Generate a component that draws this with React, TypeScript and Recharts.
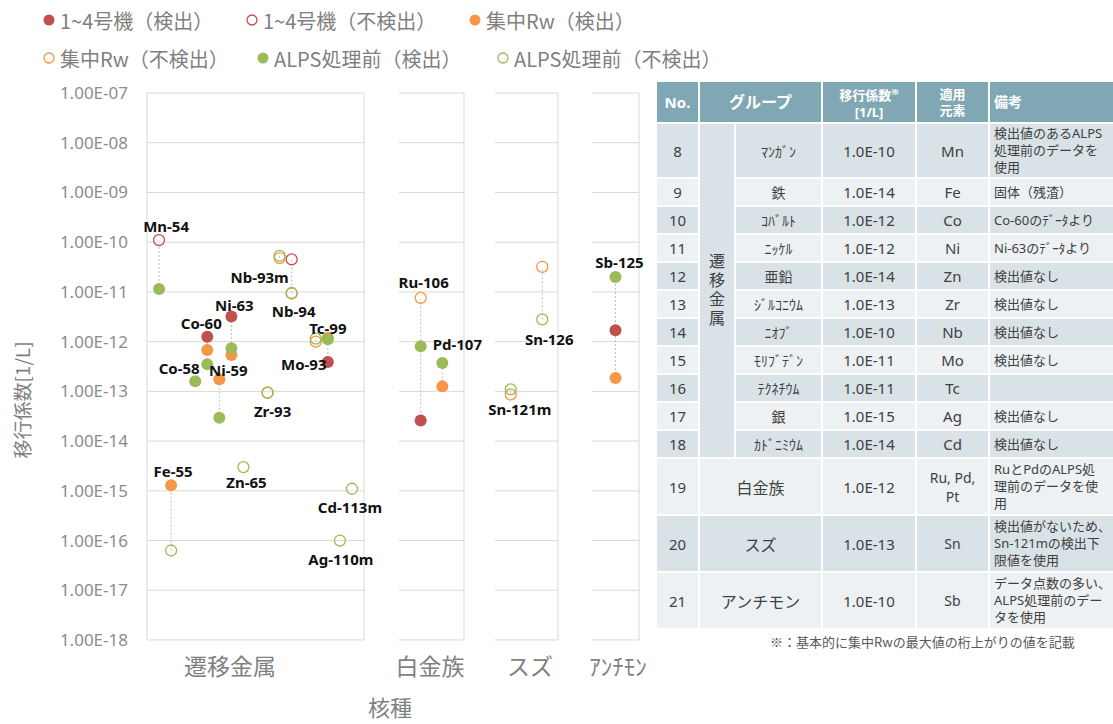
import { ScatterChart, Scatter, XAxis, YAxis, CartesianGrid } from "recharts";

// nuclides, the group (panel) they belong to and their slot inside the panel
const NUCLIDES = [
  "Mn-54", "Fe-55", "Co-58", "Co-60", "Ni-59", "Ni-63", "Zn-65", "Zr-93", "Nb-93m", "Nb-94",
  "Mo-93", "Tc-99", "Ag-110m", "Cd-113m", "Ru-106", "Pd-107", "Sn-121m", "Sn-126", "Sb-125",
];
const NUCLIDE_GROUP = [0, 0, 0, 0, 0, 0, 0, 0, 0, 0, 0, 0, 0, 0, 1, 1, 2, 2, 3];
const NUCLIDE_SLOT = [0, 1, 3, 4, 5, 6, 7, 9, 10, 11, 13, 14, 15, 16, 1, 2, 1, 3, 1];

const GROUPS = ["遷移金属", "白金族", "スズ", "ｱﾝﾁﾓﾝ"];
const GROUP_DOMAIN: [number, number][] = [[-1, 17], [0, 3], [0, 4], [0, 2]];

const Y_TICKS = [1e-18, 1e-17, 1e-16, 1e-15, 1e-14, 1e-13, 1e-12, 1e-11, 1e-10, 1e-9, 1e-8, 1e-7];
const Y_DOMAIN: [number, number] = [0.9999e-18, 1.0001e-7];

type Val = [string, number];

const U14_DET: Val[] = [
  ["Co-60", 1.25e-12], ["Ni-63", 3.2e-12], ["Tc-99", 3.9e-13], ["Ru-106", 2.6e-14], ["Sb-125", 1.7e-12],
];
const U14_ND: Val[] = [["Mn-54", 1.1e-10], ["Nb-94", 4.5e-11]];
const RW_DET: Val[] = [
  ["Fe-55", 1.3e-15], ["Co-60", 6.8e-13], ["Ni-59", 1.75e-13], ["Ni-63", 5.4e-13], ["Tc-99", 1.2e-12],
  ["Pd-107", 1.26e-13], ["Sb-125", 1.85e-13],
];
const RW_ND: Val[] = [
  ["Zr-93", 9.3e-14], ["Nb-93m", 4.8e-11], ["Nb-94", 9.3e-12], ["Mo-93", 1.0e-12], ["Ru-106", 7.6e-12],
  ["Sn-121m", 8.7e-14], ["Sn-126", 3.2e-11],
];
const ALPS_DET: Val[] = [
  ["Mn-54", 1.15e-11], ["Co-58", 1.6e-13], ["Co-60", 3.5e-13], ["Ni-59", 2.95e-14], ["Ni-63", 7.4e-13],
  ["Tc-99", 1.12e-12], ["Ru-106", 8.1e-13], ["Pd-107", 3.7e-13], ["Sb-125", 2.0e-11],
];
const ALPS_ND: Val[] = [
  ["Fe-55", 6.3e-17], ["Zn-65", 3.0e-15], ["Zr-93", 9.5e-14], ["Nb-93m", 5.3e-11], ["Nb-94", 9.5e-12],
  ["Mo-93", 1.15e-12], ["Ag-110m", 1.0e-16], ["Cd-113m", 1.1e-15], ["Sn-121m", 1.1e-13], ["Sn-126", 2.8e-12],
];

const RED = "#c0504d";
const ORANGE = "#f79646";
const GREEN = "#9bbb59";

const SERIES = [
  { name: "1~4号機（検出）", color: RED, filled: true, data: U14_DET },
  { name: "1~4号機（不検出）", color: RED, filled: false, data: U14_ND },
  { name: "集中Rw（検出）", color: ORANGE, filled: true, data: RW_DET },
  { name: "集中Rw（不検出）", color: ORANGE, filled: false, data: RW_ND },
  { name: "ALPS処理前（検出）", color: GREEN, filled: true, data: ALPS_DET },
  { name: "ALPS処理前（不検出）", color: GREEN, filled: false, data: ALPS_ND },
];

// label offset (px) from the highest point of each nuclide
const LABEL_OFFSET: Record<string, [number, number]> = {
  "Mn-54": [7, -14], "Fe-55": [2, -14], "Co-58": [-16, -13], "Co-60": [-6, -14], "Ni-59": [9, -9],
  "Ni-63": [3, -12], "Zn-65": [3, 15], "Zr-93": [5, 19], "Nb-93m": [-20, 21], "Nb-94": [2, 52],
  "Mo-93": [-12, 25], "Tc-99": [0, -10], "Ag-110m": [1, 18], "Cd-113m": [-2, 18], "Ru-106": [3, -16],
  "Pd-107": [15, -19], "Sn-121m": [9, 20], "Sn-126": [7, 72], "Sb-125": [4, -15],
};

// panel plot areas: left edge and width in px
const PANELS = [
  { left: 147, width: 217 },
  { left: 399, width: 65 },
  { left: 495, width: 63 },
  { left: 592, width: 47 },
];
const PLOT_TOP = 93;
const PLOT_BOTTOM = 640;
const GROUP_LABEL_X = [230, 430, 530, 618];

const fmtTick = (v: number) => {
  const [m, e] = v.toExponential(2).split("e");
  const n = parseInt(e, 10);
  return `${m}E${n < 0 ? "-" : "+"}${String(Math.abs(n)).padStart(2, "0")}`;
};

const idx = (n: string) => NUCLIDES.indexOf(n);

function marker(color: string, filled: boolean) {
  return (p: any) => {
    if (p.cx == null || p.cy == null) return <g />;
    return filled ? (
      <circle cx={p.cx} cy={p.cy} r={6} fill={color} />
    ) : (
      <circle cx={p.cx} cy={p.cy} r={5.5} fill="none" stroke={color} strokeWidth={1.3} />
    );
  };
}

const labelShape = (p: any) => {
  if (p.cx == null) return <g />;
  const [dx, dy] = LABEL_OFFSET[p.payload.name] || [0, -14];
  return (
    <text
      x={p.cx + dx}
      y={p.cy + dy}
      textAnchor="middle"
      dominantBaseline="central"
      fontFamily="'Noto Sans', sans-serif"
      fontWeight={700}
      fontSize={15}
      fill="#111"
    >
      {p.payload.name}
    </text>
  );
};

function Panel({ gi }: { gi: number }) {
  const panel = PANELS[gi];
  const axisW = gi === 0 ? panel.left : 0;
  const chartLeft = gi === 0 ? 0 : panel.left - 1;
  const names = NUCLIDES.filter((n) => NUCLIDE_GROUP[idx(n)] === gi);

  const seriesData = SERIES.map((s) =>
    s.data
      .filter(([n]) => NUCLIDE_GROUP[idx(n)] === gi)
      .map(([n, v]) => ({ x: NUCLIDE_SLOT[idx(n)], y: v, name: n }))
  );

  const pointsOf = (n: string) =>
    SERIES.flatMap((s) => s.data.filter(([m]) => m === n).map(([, v]) => v)).sort((a, b) => a - b);

  const lines = names
    .map((n) => ({ n, vals: pointsOf(n) }))
    .filter((d) => d.vals.length > 1)
    .map((d) => d.vals.map((v) => ({ x: NUCLIDE_SLOT[idx(d.n)], y: v })));

  const labels = names.map((n) => {
    const vals = pointsOf(n);
    return { x: NUCLIDE_SLOT[idx(n)], y: vals[vals.length - 1], name: n };
  });

  const domain = GROUP_DOMAIN[gi];

  return (
    <div style={{ position: "absolute", left: chartLeft, top: 0 }}>
      <ScatterChart
        width={(gi === 0 ? 0 : 1) + axisW + panel.width + 2}
        height={PLOT_BOTTOM + 5}
        margin={{ top: PLOT_TOP, right: 2, bottom: 5, left: gi === 0 ? 0 : 1 }}
      >
        <CartesianGrid
          stroke="#d9d9d9"
          strokeWidth={1}
          horizontalValues={Y_TICKS}
          verticalValues={domain}
        />
        <XAxis type="number" dataKey="x" domain={domain} ticks={domain} hide />
        <YAxis
          type="number"
          dataKey="y"
          scale="log"
          domain={Y_DOMAIN}
          ticks={Y_TICKS}
          interval={0}
          hide={gi !== 0}
          width={axisW}
          axisLine={false}
          tickLine={false}
          tickSize={8}
          tickMargin={11}
          tickFormatter={fmtTick}
          tick={{ fill: "#8c8c8c", fontSize: 17, fontFamily: "'Noto Sans', sans-serif" }}
        />
        {lines.map((d, i) => (
          <Scatter
            key={`l${i}`}
            data={d}
            line={{ stroke: "#bfbfbf", strokeWidth: 1, strokeDasharray: "2 2" }}
            shape={() => <g />}
            isAnimationActive={false}
          />
        ))}
        {SERIES.map((s, i) => (
          <Scatter
            key={s.name}
            name={s.name}
            data={seriesData[i]}
            shape={marker(s.color, s.filled)}
            isAnimationActive={false}
          />
        ))}
        <Scatter data={labels} shape={labelShape} isAnimationActive={false} />
      </ScatterChart>
    </div>
  );
}

const LEGEND_ROWS = [
  [{ s: 0, x: 49 }, { s: 1, x: 252 }, { s: 2, x: 475 }],
  [{ s: 3, x: 49 }, { s: 4, x: 263 }, { s: 5, x: 503 }],
];
const LEGEND_Y = [20, 58];

function Legend() {
  return (
    <>
      {LEGEND_ROWS.map((row, ri) =>
        row.map(({ s, x }) => {
          const ser = SERIES[s];
          return (
            <div
              key={ser.name}
              style={{
                position: "absolute",
                left: x - 6,
                top: LEGEND_Y[ri] - 14,
                height: 28,
                display: "flex",
                alignItems: "center",
                gap: 5,
                whiteSpace: "nowrap",
                color: "#7f7f7f",
                fontSize: 20,
                fontFamily: "'Noto Sans CJK JP', sans-serif",
              }}
            >
              <svg width={12} height={12} style={{ flexShrink: 0 }}>
                {ser.filled ? (
                  <circle cx={6} cy={6} r={5.5} fill={ser.color} />
                ) : (
                  <circle cx={6} cy={6} r={5} fill="none" stroke={ser.color} strokeWidth={1.3} />
                )}
              </svg>
              <span>{ser.name}</span>
            </div>
          );
        })
      )}
    </>
  );
}

// table on the right
const TABLE_NO = [8, 9, 10, 11, 12, 13, 14, 15, 16, 17, 18];
const TABLE_ELEM_NAME = ["ﾏﾝｶﾞﾝ", "鉄", "ｺﾊﾞﾙﾄ", "ﾆｯｹﾙ", "亜鉛", "ｼﾞﾙｺﾆｳﾑ", "ﾆｵﾌﾞ", "ﾓﾘﾌﾞﾃﾞﾝ", "ﾃｸﾈﾁｳﾑ", "銀", "ｶﾄﾞﾆﾐｳﾑ"];
const TABLE_COEF = ["1.0E-10", "1.0E-14", "1.0E-12", "1.0E-12", "1.0E-14", "1.0E-13", "1.0E-10", "1.0E-11", "1.0E-11", "1.0E-15", "1.0E-14"];
const TABLE_ELEM = ["Mn", "Fe", "Co", "Ni", "Zn", "Zr", "Nb", "Mo", "Tc", "Ag", "Cd"];
const TABLE_NOTE = [
  ["検出値のあるALPS", "処理前のデータを", "使用"],
  ["固体（残渣）"],
  ["Co-60のﾃﾞｰﾀより"],
  ["Ni-63のﾃﾞｰﾀより"],
  ["検出値なし"],
  ["検出値なし"],
  ["検出値なし"],
  ["検出値なし"],
  [],
  ["検出値なし"],
  ["検出値なし"],
];
const TABLE_OTHER = [
  { no: 19, group: "白金族", coef: "1.0E-12", elem: ["Ru, Pd,", "Pt"], note: ["RuとPdのALPS処", "理前のデータを使", "用"] },
  { no: 20, group: "スズ", coef: "1.0E-13", elem: ["Sn"], note: ["検出値がないため、", "Sn-121mの検出下", "限値を使用"] },
  { no: 21, group: "アンチモン", coef: "1.0E-10", elem: ["Sb"], note: ["データ点数の多い、", "ALPS処理前のデー", "タを使用"] },
];

const DARK = "#d9e2e6";
const LIGHT = "#edf1f3";
const HEAD = "#80a8b4";

const lines = (arr: string[]) =>
  arr.map((t, i) => (
    <span key={i}>
      {i > 0 && <br />}
      {t}
    </span>
  ));

function Table() {
  const td = (bg: string, extra: React.CSSProperties = {}): React.CSSProperties => ({
    background: bg,
    textAlign: "center",
    padding: 0,
    ...extra,
  });
  const th: React.CSSProperties = {
    background: HEAD,
    color: "#fff",
    fontWeight: 700,
    padding: 0,
    textAlign: "center",
    lineHeight: "16px",
  };
  const note: React.CSSProperties = {
    textAlign: "left",
    paddingLeft: 4,
    fontSize: 13,
    lineHeight: "17px",
    whiteSpace: "nowrap",
    overflow: "hidden",
  };
  return (
    <div style={{ position: "absolute", left: 655, top: 80 }}>
      <table
        style={{
          borderCollapse: "separate",
          borderSpacing: 2,
          width: 460,
          tableLayout: "fixed",
          fontFamily: "'Noto Sans', 'Noto Sans CJK JP', sans-serif",
          fontSize: 14,
          color: "#404040",
        }}
      >
        <colgroup>
          <col style={{ width: 41 }} />
          <col style={{ width: 34 }} />
          <col style={{ width: 85 }} />
          <col style={{ width: 92 }} />
          <col style={{ width: 71 }} />
          <col style={{ width: 123 }} />
        </colgroup>
        <tbody>
          <tr style={{ height: 40 }}>
            <th style={{ ...th, fontSize: 15 }}>No.</th>
            <th colSpan={2} style={{ ...th, fontSize: 16 }}>グループ</th>
            <th style={{ ...th, fontSize: 13 }}>
              移行係数<sup style={{ fontSize: 9 }}>※</sup>
              <br />
              [1/L]
            </th>
            <th style={{ ...th, fontSize: 13 }}>
              適用
              <br />
              元素
            </th>
            <th style={{ ...th, fontSize: 14, textAlign: "left", paddingLeft: 4 }}>備考</th>
          </tr>
          {TABLE_NO.map((no, i) => {
            const bg = i % 2 === 0 ? DARK : LIGHT;
            return (
              <tr key={no} style={{ height: i === 0 ? 53 : 26 }}>
                <td style={td(bg, { fontSize: 15 })}>{no}</td>
                {i === 0 && (
                  <td rowSpan={11} style={td(DARK, { verticalAlign: "middle" })}>
                    <div
                      style={{
                        writingMode: "vertical-rl",
                        fontSize: 16,
                        letterSpacing: 3,
                        fontFamily: "'Noto Sans CJK JP'",
                        margin: "0 auto",
                        lineHeight: "20px",
                      }}
                    >
                      遷移金属
                    </div>
                  </td>
                )}
                <td style={td(bg, { fontFamily: "'Noto Sans CJK JP'" })}>{TABLE_ELEM_NAME[i]}</td>
                <td style={td(bg, { fontSize: 15 })}>{TABLE_COEF[i]}</td>
                <td style={td(bg, { fontSize: 15 })}>{TABLE_ELEM[i]}</td>
                <td style={td(bg, note)}>{lines(TABLE_NOTE[i])}</td>
              </tr>
            );
          })}
          {TABLE_OTHER.map((r, i) => {
            const bg = i % 2 === 0 ? LIGHT : DARK;
            return (
              <tr key={r.no} style={{ height: 55 }}>
                <td style={td(bg, { fontSize: 15 })}>{r.no}</td>
                <td colSpan={2} style={td(bg, { fontSize: 16, fontFamily: "'Noto Sans CJK JP'" })}>{r.group}</td>
                <td style={td(bg, { fontSize: 15 })}>{r.coef}</td>
                <td style={td(bg, { fontSize: 14, lineHeight: "19px" })}>{lines(r.elem)}</td>
                <td style={td(bg, note)}>{lines(r.note)}</td>
              </tr>
            );
          })}
        </tbody>
      </table>
    </div>
  );
}

export default function App() {
  return (
    <div
      style={{
        position: "absolute",
        left: 0,
        top: 0,
        width: 1113,
        height: 724,
        background: "#fff",
        overflow: "hidden",
        fontFamily: "'Noto Sans CJK JP', sans-serif",
      }}
    >
      <style>{".recharts-surface{overflow:visible}.recharts-wrapper{overflow:visible}"}</style>
      <Legend />
      {GROUPS.map((g, gi) => (
        <Panel key={g} gi={gi} />
      ))}
      {GROUPS.map((g, gi) => (
        <div
          key={`g${gi}`}
          style={{
            position: "absolute",
            left: GROUP_LABEL_X[gi] - 80,
            width: 160,
            top: 650,
            textAlign: "center",
            fontSize: 23,
            color: "#7f7f7f",
            lineHeight: "30px",
          }}
        >
          {g}
        </div>
      ))}
      <div
        style={{
          position: "absolute",
          left: 340,
          width: 100,
          top: 692,
          textAlign: "center",
          fontSize: 22,
          color: "#7f7f7f",
          lineHeight: "28px",
        }}
      >
        核種
      </div>
      <div
        style={{
          position: "absolute",
          left: 22 - 80,
          top: 400 - 14,
          width: 160,
          height: 28,
          lineHeight: "28px",
          textAlign: "center",
          transform: "rotate(-90deg)",
          fontSize: 19,
          color: "#7f7f7f",
          whiteSpace: "nowrap",
        }}
      >
        移行係数[1/L]
      </div>
      <Table />
      <div
        style={{
          position: "absolute",
          left: 770,
          top: 632,
          fontSize: 13,
          color: "#595959",
          whiteSpace: "nowrap",
        }}
      >
        ※：基本的に集中Rwの最大値の桁上がりの値を記載
      </div>
    </div>
  );
}
